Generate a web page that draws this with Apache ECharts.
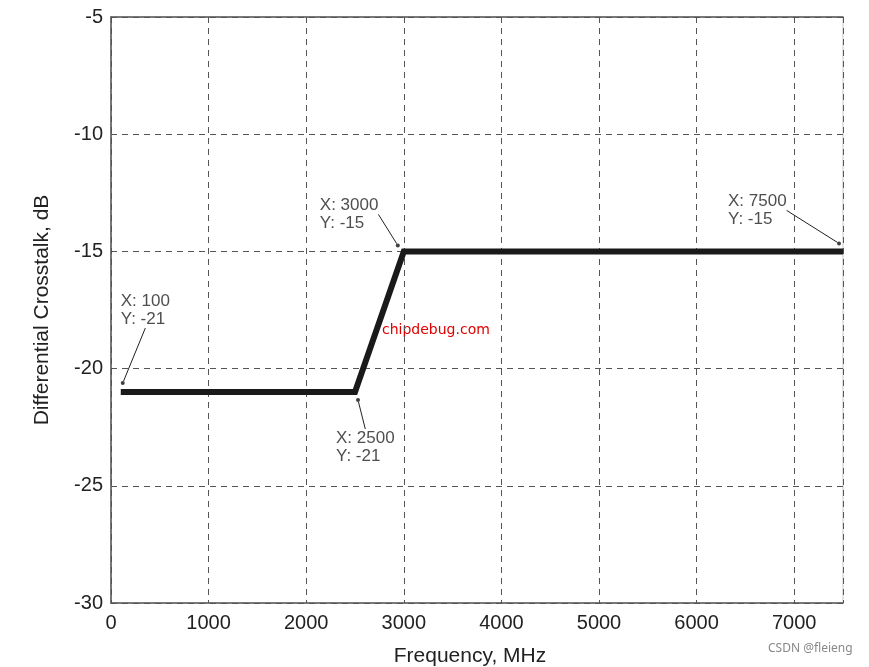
<!DOCTYPE html>
<html>
<head>
<meta charset="utf-8">
<style>html,body{margin:0;padding:0;background:#fff;}#c{width:869px;height:667px;}</style>
<script src="https://cdn.jsdelivr.net/npm/echarts@6/dist/echarts.min.js"></script>
</head>
<body>
<div id="c"></div>
<script>
// Data
var freqs = [100, 2500, 3000, 7500];
var crosstalk = [-21, -21, -15, -15];
var xTicks = [0, 1000, 2000, 3000, 4000, 5000, 6000, 7000];
var yTicks = [-30, -25, -20, -15, -10, -5];
var xName = 'Frequency, MHz';
var yName = 'Differential Crosstalk, dB';

// Annotation styling (marker offset and label offset, pixels)
var annStyle = [
  {sym: [2, -9], lx: -2, ly: -91},
  {sym: [3, 8], lx: -22, ly: 29},
  {sym: [-6, -6], lx: -78, ly: -49},
  {sym: [-4, -8], lx: -111, ly: -51}
];

var lineData = freqs.map(function (f, i) { return [f, crosstalk[i]]; });
var annData = freqs.map(function (f, i) {
  return {
    value: [f, crosstalk[i]],
    symbolOffset: annStyle[i].sym
  };
});

var FONT = 'Liberation Sans, Arial, sans-serif';
var chart = echarts.init(document.getElementById('c'));
var axisFont = {fontFamily: FONT, fontSize: 20, color: '#222'};
chart.setOption({
  animation: false,
  backgroundColor: '#fff',
  grid: {left: 111, right: 26, top: 17, bottom: 64, show: true, borderColor: '#c8c8c8', borderWidth: 1,
         containLabel: false, outerBoundsMode: 'none'},
  xAxis: [{
    type: 'value', min: 0, max: 7500, interval: 1000,
    name: xName, nameLocation: 'middle', nameGap: 43,
    nameTextStyle: {fontFamily: FONT, fontSize: 21, color: '#222', padding: [0, 14, 0, 0]},
    axisLine: {show: true, lineStyle: {color: '#555', width: 1.5}},
    axisTick: {show: false},
    axisLabel: Object.assign({margin: 10, showMaxLabel: false, formatter: function (v) { return xTicks.indexOf(v) >= 0 ? String(v) : ''; }}, axisFont),
    splitLine: {show: true, lineStyle: {color: '#555', type: [6, 5], width: 1}}
  }, {
    type: 'value', min: 0, max: 7500, position: 'top',
    axisLine: {show: true, onZero: false, lineStyle: {color: '#555', width: 1.5}},
    axisTick: {show: false}, axisLabel: {show: false}, splitLine: {show: false}
  }],
  yAxis: {
    type: 'value', min: -30, max: -5, interval: 5,
    name: yName, nameLocation: 'middle', nameGap: 58,
    nameTextStyle: {fontFamily: FONT, fontSize: 21, color: '#222'},
    axisLine: {show: true, onZero: false, lineStyle: {color: '#555', width: 1.5}},
    axisTick: {show: false},
    axisLabel: Object.assign({margin: 8, formatter: function (v) { return yTicks.indexOf(v) >= 0 ? String(v) : ''; }}, axisFont),
    splitLine: {show: true, lineStyle: {color: '#555', type: [6, 5], width: 1}}
  },
  series: [{
    type: 'line',
    data: lineData,
    symbol: 'none',
    lineStyle: {color: '#1a1a1a', width: 6, join: 'miter'},
    z: 3
  }, {
    type: 'scatter',
    data: annData,
    symbol: 'circle',
    symbolSize: 4,
    itemStyle: {color: '#111'},
    z: 4,
    label: {
      show: true,
      formatter: function (p) { return 'X: ' + p.value[0] + '\nY: ' + p.value[1]; },
      fontFamily: FONT,
      fontSize: 17,
      lineHeight: 18,
      color: '#222',
      position: 'inside'
    },
    labelLayout: function (params) {
      var s = annStyle[params.dataIndex];
      var r = params.rect;
      var cx = r.x + r.width / 2, cy = r.y + r.height / 2;
      return {x: cx + s.lx, y: cy + s.ly, align: 'left', verticalAlign: 'top'};
    },
    labelLine: {show: true, lineStyle: {color: '#222', width: 1}}
  }],
  graphic: [{
    type: 'text', left: 382, top: 323,
    style: {text: 'chipdebug.com', fill: '#e00000', font: '14px "Comic Sans MS", "DejaVu Sans", sans-serif'}
  }, {
    type: 'text', left: 768, top: 643,
    style: {text: 'CSDN @fleieng', fill: '#888', font: '12px "Noto Sans", sans-serif'}
  }]
});
</script>
</body>
</html>
